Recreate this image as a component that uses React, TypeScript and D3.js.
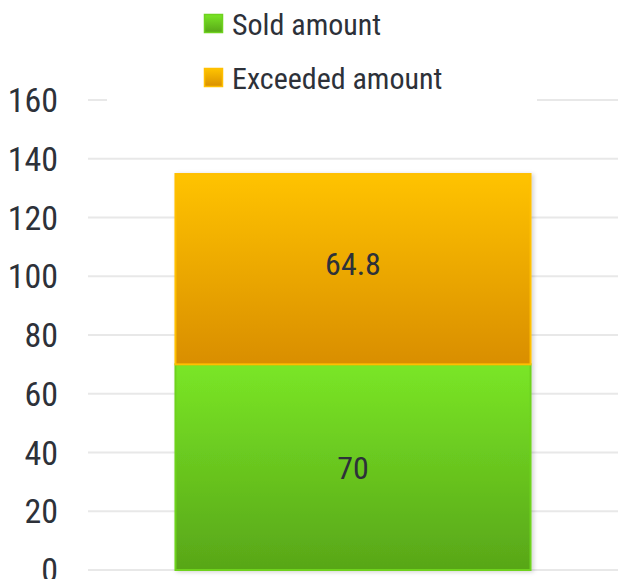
import React from "react";
import * as d3 from "d3";

const categories = ["Total"];
const soldValues = [70];
const exceededValues = [64.8];
const yTicks = [0, 20, 40, 60, 80, 100, 120, 140, 160];
const seriesNames = ["Sold amount", "Exceeded amount"];

const W = 624;
const H = 579;
const FONT = "'Roboto Condensed', 'Arial Narrow', 'Liberation Sans', sans-serif";
const TEXT = "#2d3139";

export default function App() {
  const y = d3.scaleLinear().domain([0, 160]).range([570, 100]);
  const x = d3.scaleBand().domain(categories).range([88, 618]).paddingInner(0.33).paddingOuter(0.165);
  const bw = x.bandwidth();

  return (
    <svg width={W} height={H} style={{ position: "absolute", left: 0, top: 0 }} fontFamily={FONT} fontWeight={400}>
      <defs>
        <linearGradient id="gOrange" x1="0" y1="0" x2="0" y2="1">
          <stop offset="0" stopColor="#ffc300" />
          <stop offset="1" stopColor="#d98e00" />
        </linearGradient>
        <linearGradient id="gGreen" x1="0" y1="0" x2="0" y2="1">
          <stop offset="0" stopColor="#7ae626" />
          <stop offset="1" stopColor="#58a618" />
        </linearGradient>
        <linearGradient id="lOrange" x1="0" y1="0" x2="0" y2="1">
          <stop offset="0" stopColor="#ffc400" />
          <stop offset="1" stopColor="#d99000" />
        </linearGradient>
        <linearGradient id="lGreen" x1="0" y1="0" x2="0" y2="1">
          <stop offset="0" stopColor="#7ae626" />
          <stop offset="1" stopColor="#58a618" />
        </linearGradient>
        <filter id="shadow" x="-10%" y="-10%" width="120%" height="120%">
          <feDropShadow dx="2" dy="1" stdDeviation="2" floodColor="#000" floodOpacity="0.18" />
        </filter>
      </defs>
      <rect width={W} height={H} fill="#fff" />
      {yTicks.map((t) => (
        <g key={t}>
          <line x1={88} x2={618} y1={y(t)} y2={y(t)} stroke="#e8e8e8" strokeWidth={2} />
          <text x={58} y={y(t)} dy="0.36em" textAnchor="end" fontSize={34} fill={TEXT}>
            {t}
          </text>
        </g>
      ))}
      {categories.map((c, i) => {
        const x0 = x(c)!;
        const s = soldValues[i];
        const e = exceededValues[i];
        return (
          <g key={c}>
            <g filter="url(#shadow)">
              <rect x={x0} y={y(s)} width={bw} height={y(0) - y(s)} fill="url(#gGreen)" stroke="#6ed21e" strokeWidth={2} />
              <rect x={x0} y={y(s + e)} width={bw} height={y(s) - y(s + e)} fill="url(#gOrange)" stroke="#ffbf00" strokeWidth={2} />
            </g>
            <text x={x0 + bw / 2} y={y(s + e / 2)} dy="0.18em" textAnchor="middle" fontSize={32} fill={TEXT}>
              {e}
            </text>
            <text x={x0 + bw / 2} y={y(s / 2)} dy="0.36em" textAnchor="middle" fontSize={32} fill={TEXT}>
              {s}
            </text>
          </g>
        );
      })}
      <rect x={107} y={0} width={430} height={104} fill="#fff" />
      {seriesNames.map((n, i) => (
        <g key={n} transform={`translate(204, ${14 + i * 54})`}>
          <rect x={0.5} y={0.5} width={18} height={18} fill={i === 0 ? "url(#lGreen)" : "url(#lOrange)"} stroke={i === 0 ? "#6ed21e" : "#ffbf00"} strokeWidth={1.5} />
          <text x={28} y={21} fontSize={30} fill={TEXT}>
            {n}
          </text>
        </g>
      ))}
    </svg>
  );
}
